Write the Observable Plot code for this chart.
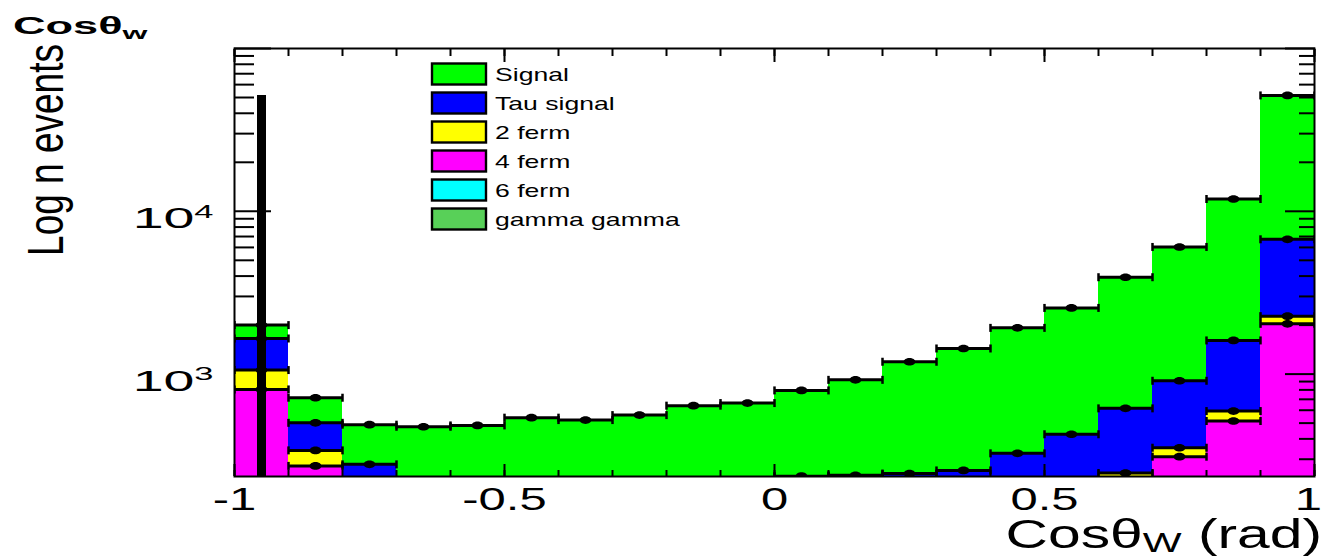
<!DOCTYPE html>
<html>
<head>
<meta charset="utf-8">
<script src="https://cdn.jsdelivr.net/npm/d3@7"></script>
<script src="https://cdn.jsdelivr.net/npm/@observablehq/plot@0.6"></script>
<style>
  body { margin: 0; background: #fff; }
  #chart { width: 1325px; height: 560px; }
</style>
</head>
<body>
<div id="chart"></div>
<script>
// Bin edges of the cosθ_W histogram (20 bins of 0.1)
const binEdges = [-1, -0.9, -0.8, -0.7, -0.6, -0.5, -0.4, -0.3, -0.2, -0.1, 0, 0.1, 0.2, 0.3, 0.4, 0.5, 0.6, 0.7, 0.8, 0.9, 1];

// Events per bin for each process (stacked bottom to top)
const fourFerm  = [805, 273, 150, 95, 75, 65, 60, 60, 60, 62, 68, 75, 85, 95, 110, 130, 190, 311, 515, 2036];
const twoFerm   = [254, 67, 42, 30, 25, 22, 20, 20, 20, 20, 22, 25, 28, 30, 35, 45, 57, 42, 78, 234];
const tauSignal = [596, 162, 87, 75, 90, 98, 110, 115, 125, 133, 146, 139, 132, 131, 181, 252, 369, 557, 1017, 4460];
const signal    = [345, 214, 210, 275, 294, 355, 332, 365, 435, 449, 558, 683, 946, 1181, 1597, 2123, 3321, 5130, 10290, 44770];

const layerNames  = ["4 ferm", "2 ferm", "Tau signal", "Signal"];
const layerColors = ["#ff00ff", "#ffff00", "#0000ff", "#00ff00"];

const legendNames  = ["Signal", "Tau signal", "2 ferm", "4 ferm", "6 ferm", "gamma gamma"];
const legendColors = ["#00ff00", "#0000ff", "#ffff00", "#ff00ff", "#00ffff", "#58d058"];

// Axis ticks
const yTicksMajor = [1e3, 1e4, 1e5];
const yTicksMinor = [300, 400, 500, 600, 700, 800, 900,
                     2000, 3000, 4000, 5000, 6000, 7000, 8000, 9000,
                     20000, 30000, 40000, 50000, 60000, 70000, 80000, 90000];
const yTickLabels = [1e3, 1e4];
const xTicksMajor = [-1, -0.5, 0, 0.5, 1];
const xTicksMinor = binEdges;

const yDomain = [235, 1e5];
const cutPosition = -0.95;

// Build stacked rows
const layers = [fourFerm, twoFerm, tauSignal, signal];
const rows = [];
binEdges.slice(0, -1).forEach((lo, i) => {
  const hi = binEdges[i + 1];
  let base = 0;
  layers.forEach((vals, k) => {
    const top = base + vals[i];
    rows.push({lo, hi, mid: (lo + hi) / 2, layer: layerNames[k], base, top});
    base = top;
  });
});
const totals = rows.filter(d => d.layer === "Signal").map(d => d.top);

// Marker shapes: small vertical cap and a slightly flattened dot
const capSymbol = {draw(ctx, size) { const r = Math.sqrt(size / Math.PI); ctx.moveTo(0, -r); ctx.lineTo(0, r); }};
const ovalSymbol = {draw(ctx, size) {
  const r = Math.sqrt(size / Math.PI), a = r * 1.3, b = r * 0.85, k = 0.5523;
  ctx.moveTo(a, 0);
  ctx.bezierCurveTo(a, b * k, a * k, b, 0, b);
  ctx.bezierCurveTo(-a * k, b, -a, b * k, -a, 0);
  ctx.bezierCurveTo(-a, -b * k, -a * k, -b, 0, -b);
  ctx.bezierCurveTo(a * k, -b, a, -b * k, a, 0);
  ctx.closePath();
}};

const expFormat = d => "10^" + Math.round(Math.log10(d));
const blank = () => "";

const W = 1325, H = 560;
const chart = Plot.plot({
  width: W,
  height: H,
  marginLeft: 234,
  marginRight: 11,
  marginTop: 48,
  marginBottom: 84,
  style: {fontFamily: "'Liberation Sans', Arial, sans-serif", background: "#fff", color: "#000"},
  x: {domain: [-1, 1]},
  y: {type: "log", domain: yDomain},
  color: {domain: layerNames, range: layerColors},
  marks: [
    // left axis ticks sit under the histogram
    Plot.axisY(yTicksMinor, {anchor: "left", tickSize: -20, tickFormat: blank, strokeWidth: 2, label: null}),
    Plot.axisY(yTicksMajor, {anchor: "left", tickSize: -37, tickFormat: blank, strokeWidth: 2, label: null}),
    Plot.axisY(yTickLabels, {anchor: "left", tickSize: 0, tickPadding: 21, dy: 7, fontSize: 30, tickFormat: expFormat, label: null}),

    // stacked histogram
    Plot.rectY(rows, {x1: "lo", x2: "hi", y1: d => Math.max(d.base, yDomain[0]), y2: "top", fill: "layer", clip: true}),

    // horizontal error bars with end caps, and markers
    Plot.ruleY(rows, {x1: "lo", x2: "hi", y: "top", stroke: "#000", strokeWidth: 3, clip: true}),
    Plot.dot(rows, {x: "lo", y: "top", symbol: capSymbol, r: 4, stroke: "#000", strokeWidth: 2.5, clip: true}),
    Plot.dot(rows, {x: "hi", y: "top", symbol: capSymbol, r: 4, stroke: "#000", strokeWidth: 2.5, clip: true}),
    Plot.dot(rows, {x: "mid", y: "top", symbol: ovalSymbol, r: 4.5, fill: "#000", stroke: "none", clip: true}),

    // cut position
    Plot.ruleX([cutPosition], {y1: yDomain[0], y2: d3.max(totals), stroke: "#000", strokeWidth: 9}),

    Plot.frame({stroke: "#000", strokeWidth: 2}),

    // right, bottom and top ticks
    Plot.axisY(yTicksMinor, {anchor: "right", tickSize: -16, tickFormat: blank, strokeWidth: 2, label: null}),
    Plot.axisY(yTicksMajor, {anchor: "right", tickSize: -30, tickFormat: blank, strokeWidth: 2, label: null}),
    Plot.axisX(xTicksMinor, {anchor: "bottom", tickSize: -6, tickFormat: blank, strokeWidth: 2, label: null}),
    Plot.axisX(xTicksMajor, {anchor: "bottom", tickSize: -12, tickFormat: blank, strokeWidth: 2, label: null}),
    Plot.axisX(xTicksMajor, {anchor: "bottom", tickSize: 0, tickPadding: 11, fontSize: 31, tickFormat: d => String(d), label: null}),
    Plot.axisX(xTicksMinor, {anchor: "top", tickSize: -7, tickFormat: blank, strokeWidth: 2, label: null}),
    Plot.axisX(xTicksMajor, {anchor: "top", tickSize: -13, tickFormat: blank, strokeWidth: 2, label: null})
  ]
});

document.getElementById("chart").appendChild(chart);
const svg = d3.select(chart);
const font = "'Liberation Sans', Arial, sans-serif";

// horizontally widened lettering (em offsets stay on the element)
function widen(sel, s) {
  sel.each(function() {
    const t = this.getAttribute("transform") || "";
    let x = 0, y = 0;
    for (const a of ["x", "y"]) {
      const v = this.getAttribute(a);
      if (v != null && !/em$/.test(v) && isFinite(+v)) {
        if (a === "x") x = +v; else y = +v;
        this.removeAttribute(a);
      }
    }
    this.setAttribute("transform", `${t} translate(${x},${y}) scale(${s},1)`);
  });
}

// y tick labels: 10 with raised exponent
svg.selectAll('g[aria-label="y-axis tick label"] text').each(function() {
  const txt = this.textContent;
  if (!txt || txt.indexOf("^") < 0) return;
  const [base, exp] = txt.split("^");
  const el = d3.select(this);
  el.text(base);
  el.append("tspan").attr("dy", "-0.55em").attr("font-size", "0.62em").text(exp);
});
widen(svg.selectAll('g[aria-label="y-axis tick label"] text'), 1.85);
widen(svg.selectAll('g[aria-label="x-axis tick label"] text'), 1.58);

// keep the last x label inside the canvas
const svgBox = chart.getBoundingClientRect();
svg.selectAll('g[aria-label="x-axis tick label"] text').each(function() {
  if (!this.textContent) return;
  const b = this.getBoundingClientRect();
  const over = b.right - svgBox.left - (W - 3);
  if (over > 0) this.setAttribute("transform", `translate(${-over},0) ${this.getAttribute("transform")}`);
});

// y-axis title
svg.append("text")
  .attr("transform", "translate(63,150) scale(1.35,1) rotate(-90)")
  .attr("text-anchor", "middle")
  .attr("font-family", font).attr("font-size", 37)
  .text("Log n events");

// x-axis title
const xt = svg.append("text")
  .attr("transform", "translate(1322,548) scale(1.47,1)")
  .attr("text-anchor", "end")
  .attr("font-family", font).attr("font-size", 40);
xt.append("tspan").text("Cosθ");
xt.append("tspan").attr("dy", 4).attr("font-size", 28).text("W");
xt.append("tspan").attr("dy", -4).text(" (rad)");

// top-left title
const tt = svg.append("text")
  .attr("transform", "translate(13,34) scale(1.88,1)")
  .attr("text-anchor", "start")
  .attr("font-family", font).attr("font-size", 24).attr("font-weight", "bold");
tt.append("tspan").text("Cosθ");
tt.append("tspan").attr("dy", 5).attr("font-size", 17).text("w");

// legend
const lg = svg.append("g").attr("text-anchor", "start");
legendNames.forEach((name, i) => {
  const cy = 74 + i * 29;
  lg.append("rect")
    .attr("x", 432).attr("y", cy - 10.5).attr("width", 54).attr("height", 21)
    .attr("fill", legendColors[i]).attr("stroke", "#000").attr("stroke-width", 2.4);
  lg.append("text")
    .attr("transform", `translate(495,${cy + 7}) scale(1.4,1)`)
    .attr("font-family", font).attr("font-size", 19)
    .text(name);
});
</script>
</body>
</html>
